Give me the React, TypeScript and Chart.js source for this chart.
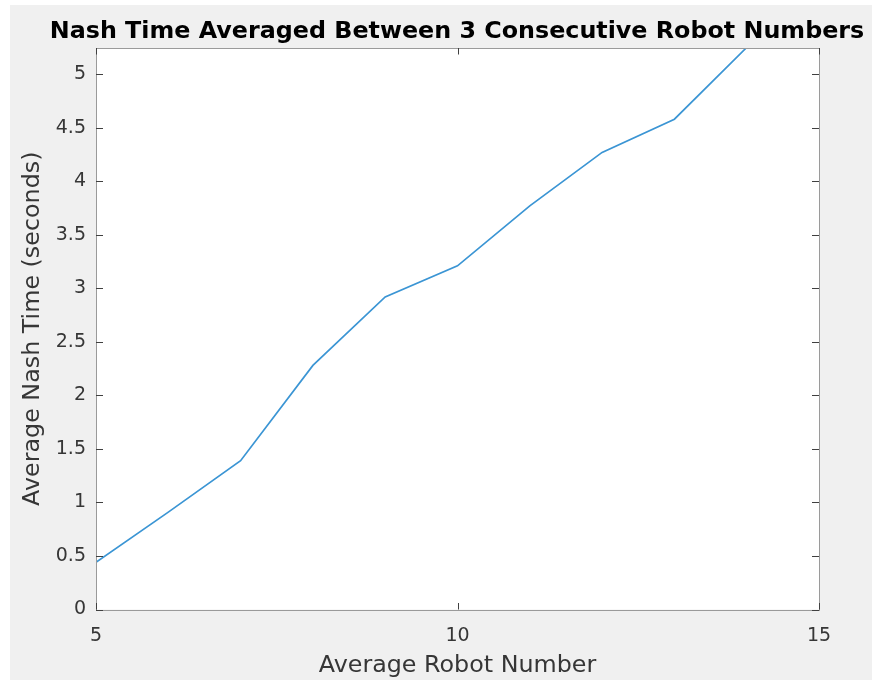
import React, { useEffect, useRef } from "react";
import { Chart, registerables } from "chart.js";

Chart.register(...registerables);

const chartTitle = "Nash Time Averaged Between 3 Consecutive Robot Numbers";
const xAxisTitle = "Average Robot Number";
const yAxisTitle = "Average Nash Time (seconds)";

const robotNumbers = [5, 6, 7, 8, 9, 10, 11, 12, 13, 14];
const nashTimes = [0.44, 0.91, 1.39, 2.28, 2.92, 3.21, 3.77, 4.27, 4.58, 5.25];

const xMin = 5;
const xMax = 15;
const xStep = 5;
const yMin = 0;
const yMax = 5.245;
const yStep = 0.5;

const FONT = "'DejaVu Sans', sans-serif";

const matlabPlugin = {
  id: "matlabStyle",
  beforeDraw(chart: any) {
    const { ctx, chartArea } = chart;
    ctx.save();
    ctx.fillStyle = "#ffffff";
    ctx.fillRect(chartArea.left, chartArea.top, chartArea.right - chartArea.left, chartArea.bottom - chartArea.top);
    ctx.restore();
  },
  afterDraw(chart: any) {
    const { ctx, chartArea } = chart;
    const { left, right, top, bottom } = chartArea;
    const xs = chart.scales.x;
    const ys = chart.scales.y;
    ctx.save();
    ctx.strokeStyle = "#9a9a9a";
    ctx.lineWidth = 1;
    ctx.strokeRect(Math.round(left) + 0.5, Math.round(top) + 0.5, Math.round(right - left), Math.round(bottom - top));
    ctx.strokeStyle = "#404040";
    ctx.beginPath();
    xs.ticks.forEach((t: any) => {
      const px = Math.round(xs.getPixelForValue(t.value)) + 0.5;
      ctx.moveTo(px, bottom);
      ctx.lineTo(px, bottom - 6.5);
      ctx.moveTo(px, top);
      ctx.lineTo(px, top + 6.5);
    });
    ys.ticks.forEach((t: any) => {
      const py = Math.round(ys.getPixelForValue(t.value)) + 0.5;
      ctx.moveTo(left, py);
      ctx.lineTo(left + 7, py);
      ctx.moveTo(right, py);
      ctx.lineTo(right - 7, py);
    });
    ctx.stroke();
    ctx.fillStyle = "#000000";
    ctx.font = `bold 23.8px ${FONT}`;
    ctx.textAlign = "center";
    ctx.textBaseline = "alphabetic";
    ctx.fillText(chartTitle, (left + right) / 2 - 0.5, 32.5);
    ctx.restore();
  },
};

export default function App() {
  const canvasRef = useRef<HTMLCanvasElement | null>(null);

  useEffect(() => {
    const canvas = canvasRef.current;
    if (!canvas) return;
    const points = robotNumbers.map((x, i) => ({ x, y: nashTimes[i] }));
    const chart = new Chart(canvas, {
      type: "line",
      data: {
        datasets: [
          {
            data: points,
            borderColor: "#3b95d4",
            borderWidth: 1.7,
            pointRadius: 0,
            fill: false,
            tension: 0,
          },
        ],
      },
      options: {
        animation: false,
        responsive: false,
        maintainAspectRatio: false,
        layout: { padding: { top: 43, right: 53, left: 0, bottom: 0 } },
        plugins: {
          legend: { display: false },
          title: { display: false },
          tooltip: { enabled: false },
        },
        scales: {
          x: {
            type: "linear",
            min: xMin,
            max: xMax,
            grid: { display: false, drawTicks: false },
            border: { display: false },
            ticks: {
              stepSize: xStep,
              includeBounds: false,
              padding: 15,
              color: "#363636",
              font: { family: FONT, size: 19 },
              maxRotation: 0,
              callback: (v: any) => String(Number(Number(v).toFixed(2))),
            },
            title: {
              display: true,
              text: xAxisTitle,
              color: "#363636",
              font: { family: FONT, size: 23.8 },
              padding: { top: 0, bottom: 0 },
            },
            afterFit: (scale: any) => {
              scale.height = 70.5;
            },
          },
          y: {
            type: "linear",
            min: yMin,
            max: yMax,
            grid: { display: false, drawTicks: false },
            border: { display: false },
            ticks: {
              stepSize: yStep,
              includeBounds: false,
              padding: 10,
              color: "#363636",
              font: { family: FONT, size: 19 },
              callback: (v: any) => String(Number(Number(v).toFixed(2))),
            },
            title: {
              display: true,
              text: yAxisTitle,
              color: "#363636",
              font: { family: FONT, size: 23.8 },
              padding: { top: 9, bottom: 0 },
            },
            afterFit: (scale: any) => {
              scale.width = 86;
            },
          },
        },
      },
      plugins: [matlabPlugin],
    });
    return () => chart.destroy();
  }, []);

  return (
    <div style={{ position: "absolute", left: 0, top: 0, width: 872, height: 680, background: "#ffffff" }}>
      <canvas
        ref={canvasRef}
        width={862}
        height={675}
        style={{ position: "absolute", left: 10, top: 5, width: 862, height: 675, background: "#f0f0f0" }}
      />
    </div>
  );
}
